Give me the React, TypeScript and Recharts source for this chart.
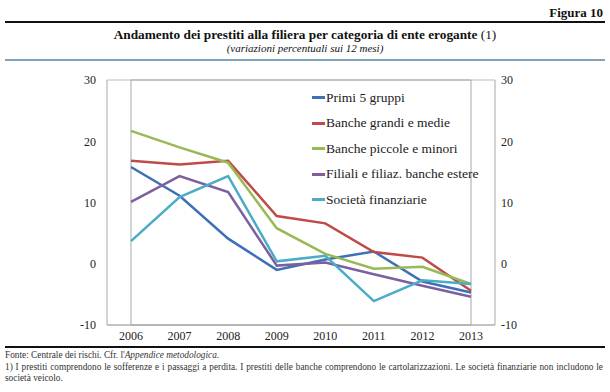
import React from 'react'
import {
  LineChart,
  Line,
  XAxis,
  YAxis,
  CartesianGrid,
  ReferenceArea,
} from 'recharts'

const years = ['2006', '2007', '2008', '2009', '2010', '2011', '2012', '2013']
const primi5 = [15.8, 11.1, 4.1, -1.0, 0.7, 2.0, -2.9, -4.7]
const grandiMedie = [16.8, 16.2, 16.8, 7.8, 6.6, 1.9, 1.0, -4.4]
const piccoleMinori = [21.7, 19.0, 16.5, 5.8, 1.6, -0.8, -0.5, -3.3]
const filialiEstere = [10.1, 14.3, 11.7, -0.3, 0.2, -1.7, -3.6, -5.4]
const societaFin = [3.7, 10.9, 14.3, 0.4, 1.3, -6.1, -2.7, -3.3]
const yTicks = [-10, 0, 10, 20, 30]

// both y axes share the same scale, so series are split between them
const series = [
  { key: 'primi', name: 'Primi 5 gruppi', color: '#3F6FB6', values: primi5, axis: 'left' },
  { key: 'grandi', name: 'Banche grandi e medie', color: '#BE4B48', values: grandiMedie, axis: 'left' },
  { key: 'piccole', name: 'Banche piccole e minori', color: '#98B954', values: piccoleMinori, axis: 'left' },
  { key: 'filiali', name: 'Filiali e filiaz. banche estere', color: '#7D5FA0', values: filialiEstere, axis: 'right' },
  { key: 'societa', name: 'Società finanziarie', color: '#4AACC5', values: societaFin, axis: 'right' },
]

const data = years.map((year, i) => {
  const row: Record<string, string | number> = { year }
  series.forEach((s) => {
    row[s.key] = s.values[i]
  })
  return row
})

const serif = '"Liberation Serif", "DejaVu Serif", serif'
const axisGray = '#A8A8A8'
const tickStyle = { fill: '#222', fontSize: 12, fontFamily: serif }

export default function App() {
  return (
    <div style={{ position: 'absolute', left: 0, top: 0, width: 610, height: 392, background: '#fff', fontFamily: serif, color: '#111' }}>
      <div style={{ position: 'absolute', right: 7, top: 5, fontSize: 13, fontWeight: 'bold' }}>Figura 10</div>
      <div style={{ position: 'absolute', left: 5, width: 600, top: 21, height: 2, background: '#111' }} />
      <div style={{ position: 'absolute', left: 0, width: 610, top: 27, textAlign: 'center', fontSize: 13.3, fontWeight: 'bold' }}>
        Andamento dei prestiti alla filiera per categoria di ente erogante <span style={{ fontWeight: 'normal' }}>(1)</span>
      </div>
      <div style={{ position: 'absolute', left: 0, width: 610, top: 42, textAlign: 'center', fontSize: 11, fontStyle: 'italic' }}>
        (variazioni percentuali sui 12 mesi)
      </div>
      <div style={{ position: 'absolute', left: 5, width: 600, top: 59, height: 2, background: '#7FA3BC' }} />

      <div style={{ position: 'absolute', left: 0, top: 0 }}>
        <LineChart width={610} height={392} data={data} margin={{ top: 80, right: 0, bottom: 37, left: 0 }}>
          <CartesianGrid vertical={false} stroke="#BDBDBD" strokeWidth={1} />
          <XAxis
            dataKey="year"
            height={30}
            padding={{ left: 24, right: 24 }}
            tickLine={false}
            tickMargin={0}
            stroke={axisGray}
            tick={tickStyle}
          />
          <YAxis
            yAxisId="left"
            width={107}
            domain={[-10, 30]}
            ticks={yTicks}
            tickLine={false}
            tickMargin={5}
            stroke={axisGray}
            tick={tickStyle}
          />
          <YAxis
            yAxisId="right"
            orientation="right"
            width={115}
            domain={[-10, 30]}
            ticks={yTicks}
            tickLine={false}
            tickMargin={0}
            stroke={axisGray}
            tick={tickStyle}
          />
          <ReferenceArea yAxisId="left" y1={-10} y2={30} fill="none" fillOpacity={0} stroke={axisGray} strokeWidth={1} ifOverflow="visible" />
          {series.map((s) => (
            <Line
              key={s.key}
              yAxisId={s.axis}
              type="linear"
              dataKey={s.key}
              name={s.name}
              stroke={s.color}
              strokeWidth={2.5}
              dot={false}
              isAnimationActive={false}
            />
          ))}
        </LineChart>
      </div>

      <div style={{ position: 'absolute', left: 312, top: 85, fontSize: 13.5, color: '#222' }}>
        {series.map((s) => (
          <div key={s.key} style={{ display: 'flex', alignItems: 'center', height: 25.5, whiteSpace: 'nowrap' }}>
            <span style={{ display: 'inline-block', width: 13, height: 3, background: s.color, marginRight: 1 }} />
            <span>{s.name}</span>
          </div>
        ))}
      </div>

      <div style={{ position: 'absolute', left: 5, width: 600, top: 346, height: 2, background: '#111' }} />
      <div style={{ position: 'absolute', left: 5, top: 350, fontSize: 9.3, lineHeight: '11.5px', color: '#333', width: 598, textAlign: 'justify' }}>
        <div>
          Fonte: Centrale dei rischi. Cfr. l'<i>Appendice metodologica</i>.
        </div>
        <div>
          1) I prestiti comprendono le sofferenze e i passaggi a perdita. I prestiti delle banche comprendono le cartolarizzazioni. Le società finanziarie non includono le società veicolo.
        </div>
      </div>
    </div>
  )
}
